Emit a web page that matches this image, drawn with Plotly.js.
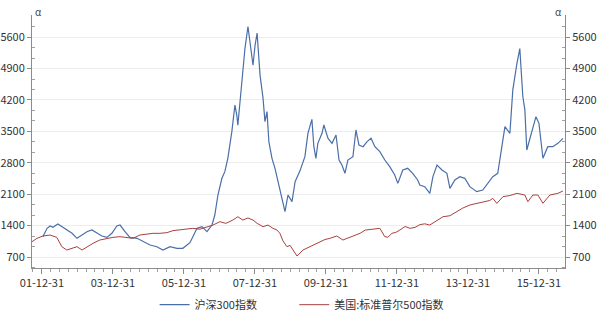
<!DOCTYPE html>
<html>
<head>
<meta charset="utf-8">
<script src="https://cdn.plot.ly/plotly-3.0.1.min.js"></script>
<style>html,body{margin:0;padding:0;background:#fff;}#chart{width:598px;height:313px;}</style>
</head>
<body>
<div id="chart"></div>
<script>
const csiName = '沪深300指数';
const spxName = '美国:标准普尔500指数';

const csiDates = ['2002-01-10','2002-02-22','2002-03-25','2002-04-23','2002-06-13','2002-07-24','2002-09-13','2002-11-06','2002-12-27',
'2003-02-17','2003-04-08','2003-05-30','2003-07-20','2003-09-09','2003-10-31','2003-12-21',
'2004-02-10','2004-03-14','2004-05-04','2004-06-24','2004-09-05','2004-11-06',
'2005-01-16','2005-03-28','2005-05-29','2005-08-10','2005-10-20','2005-12-20',
'2006-03-03','2006-05-15','2006-07-05','2006-08-25','2006-10-16','2006-11-14','2006-12-16',
'2007-01-26','2007-02-25','2007-03-28','2007-05-08','2007-06-09','2007-06-28','2007-07-09','2007-08-19','2007-09-20','2007-10-21','2007-11-11','2007-12-12',
'2008-01-02','2008-01-23','2008-02-22','2008-03-24','2008-04-13','2008-05-04','2008-05-23','2008-06-24','2008-07-25','2008-08-25','2008-10-05','2008-11-05','2008-12-06',
'2009-01-16','2009-02-17','2009-04-08','2009-05-29','2009-06-29','2009-08-09','2009-08-29','2009-09-19','2009-10-09','2009-11-21','2009-12-10',
'2010-01-22','2010-03-04','2010-04-14','2010-05-15','2010-06-14','2010-07-15','2010-08-14','2010-10-05','2010-11-05','2010-12-06',
'2011-01-17','2011-02-28','2011-04-09','2011-05-19','2011-07-09','2011-08-29','2011-10-19','2011-12-09',
'2012-01-10','2012-03-01','2012-04-21','2012-06-11','2012-08-01','2012-08-23','2012-10-13','2012-12-04',
'2013-01-05','2013-02-16','2013-04-08','2013-05-29','2013-06-29','2013-08-19','2013-10-09','2013-11-29',
'2014-01-20','2014-04-01','2014-06-02','2014-07-23','2014-09-13','2014-11-03','2014-12-17',
'2015-01-16','2015-03-08','2015-04-07','2015-05-19','2015-06-18','2015-07-19','2015-08-09','2015-08-29','2015-10-20','2015-12-01',
'2016-01-01','2016-02-11','2016-04-01','2016-05-23','2016-07-14','2016-09-04'];
const csiValues = [1153,1339,1391,1361,1435,1376,1317,1228,1116,
1190,1264,1302,1228,1168,1138,1228,
1391,1413,1264,1138,1116,1041,
967,930,856,930,894,894,
1020,1339,1376,1264,1413,1636,2082,
2454,2603,2900,3494,4085,3862,3638,4603,5346,5837,5494,4974,
5420,5690,4760,4240,3718,3941,3271,2900,2677,2380,1934,1711,2082,
1934,2380,2620,2937,3457,3768,3159,2900,3234,3457,3643,
3345,3234,3420,2862,2751,2566,2862,2937,3531,3197,
3159,3271,3345,3159,3048,2862,2714,2528,
2342,2640,2677,2566,2417,2305,2268,2119,
2491,2751,2640,2566,2231,2417,2491,2454,
2268,2156,2193,2342,2491,2566,3234,
3605,3457,4426,5012,5346,4277,3980,3085,3531,3828,
3679,2900,3159,3159,3234,3345];

const spxDates = ['2001-09-20','2001-11-10','2002-01-10','2002-03-25','2002-06-02','2002-07-24','2002-09-13','2002-11-06','2002-12-27',
'2003-02-17','2003-04-08','2003-06-10','2003-08-19','2003-10-31','2004-01-01','2004-03-14','2004-05-23','2004-07-24','2004-10-04','2004-12-17',
'2005-02-17','2005-04-28','2005-07-09','2005-09-09','2005-11-21','2006-01-31','2006-04-01','2006-06-13','2006-08-25','2006-10-27',
'2007-01-05','2007-03-08','2007-05-19','2007-07-09','2007-08-29','2007-10-21','2007-12-12',
'2008-01-23','2008-03-24','2008-05-14','2008-07-04','2008-08-14','2008-09-13','2008-10-15','2008-11-25','2008-12-27',
'2009-01-27','2009-03-09','2009-05-09','2009-07-20','2009-09-09','2009-10-31','2009-12-21',
'2010-02-10','2010-04-22','2010-06-24','2010-09-04','2010-10-27','2010-12-17',
'2011-02-08','2011-03-30','2011-05-19','2011-07-09','2011-08-29','2011-09-30','2011-11-10','2011-12-21',
'2012-01-31','2012-03-25','2012-05-14','2012-07-05','2012-08-23','2012-10-13','2012-12-04',
'2013-02-16','2013-04-19','2013-06-29','2013-09-09','2013-11-08',
'2014-01-20','2014-04-01','2014-06-02','2014-08-13','2014-09-13','2014-10-25','2014-12-27',
'2015-03-08','2015-05-19','2015-08-09','2015-09-09','2015-10-31','2015-12-21',
'2016-02-11','2016-04-22','2016-07-14','2016-09-04'];
const spxValues = [1041,1116,1168,1190,1138,930,856,894,930,
856,930,1005,1079,1116,1138,1153,1138,1116,1190,1213,
1228,1228,1243,1287,1302,1317,1339,1320,1376,1413,
1487,1450,1524,1598,1524,1570,1524,
1450,1376,1413,1339,1302,1230,1060,930,960,
856,722,856,930,1000,1041,1090,
1116,1168,1079,1138,1180,1228,
1300,1317,1330,1339,1153,1140,1228,1250,
1302,1380,1339,1360,1420,1440,1413,
1520,1598,1620,1710,1790,
1859,1890,1933,1960,2008,1896,2045,
2070,2119,2082,1933,2082,2082,
1896,2082,2119,2171];

const yTicks = [700,1400,2100,2800,3500,4200,4900,5600];
const xTickVals = ['2001-12-31','2003-12-31','2005-12-31','2007-12-31','2009-12-31','2011-12-31','2013-12-31','2015-12-31'];
const xTickText = ['01-12-31','03-12-31','05-12-31','07-12-31','09-12-31','11-12-31','13-12-31','15-12-31'];

const yRange = [455, 6094];
const fontFam = '"Noto Sans CJK SC", "Noto Sans", sans-serif';

const minorY = [];
for (let i = 0; i < yTicks.length; i++) {
  minorY.push(yTicks[i] - 700/3, yTicks[i] - 1400/3);
}
minorY.push(5600 + 700/3);

const axisY = {
  range: yRange, tickvals: yTicks, ticktext: yTicks.map(String),
  showline: true, linecolor: '#8c8c8c', linewidth: 1,
  ticks: 'outside', ticklen: 4, tickcolor: '#8c8c8c',
  minor: {tickvals: minorY, ticks: 'inside', ticklen: 3, tickcolor: '#a0a0a0'},
  zeroline: false, tickfont: {size: 11, color: '#333', family: fontFam}, fixedrange: true
};

const data = [
  {x: csiDates, y: csiValues, type: 'scatter', mode: 'lines', name: csiName,
   line: {color: '#4a6fa8', width: 1.2}, yaxis: 'y', legend: 'legend'},
  {x: spxDates, y: spxValues, type: 'scatter', mode: 'lines', name: spxName,
   line: {color: '#a8413f', width: 1}, yaxis: 'y2', legend: 'legend2'}
];

const legendBase = {orientation: 'h', xanchor: 'left', y: -0.145, yanchor: 'middle',
  font: {size: 11, color: '#333', family: fontFam}, itemwidth: 30, bgcolor: 'rgba(0,0,0,0)'};

const layout = {
  width: 598, height: 313,
  margin: {l: 32, r: 33, t: 15, b: 45, autoexpand: false},
  paper_bgcolor: '#fff', plot_bgcolor: '#fff',
  font: {family: fontFam, size: 11, color: '#333'},
  showlegend: true,
  legend: Object.assign({}, legendBase, {x: 0.23}),
  legend2: Object.assign({}, legendBase, {x: 0.492}),
  xaxis: {
    type: 'date', range: ['2001-09-20', '2016-09-25'],
    tickvals: xTickVals, ticktext: xTickText,
    showline: true, linecolor: '#8c8c8c', linewidth: 1,
    ticks: 'outside', ticklen: 5, tickcolor: '#8c8c8c',
    minor: {dtick: 'M3', tick0: '2001-12-31', ticks: 'outside', ticklen: 3, tickcolor: '#a0a0a0'},
    showgrid: false, zeroline: false, fixedrange: true,
    tickfont: {size: 11, color: '#333', family: fontFam}
  },
  yaxis: Object.assign({}, axisY, {side: 'left', showgrid: true, gridcolor: '#ececec', gridwidth: 1}),
  yaxis2: Object.assign({}, axisY, {side: 'right', overlaying: 'y', showgrid: false}),
  annotations: [
    {xref: 'paper', yref: 'paper', x: 0, y: 1, xanchor: 'left', yanchor: 'bottom', xshift: 1, yshift: -6,
     text: 'α', showarrow: false, font: {size: 10, color: '#444', family: fontFam}},
    {xref: 'paper', yref: 'paper', x: 1, y: 1, xanchor: 'right', yanchor: 'bottom', xshift: -1, yshift: -6,
     text: 'α', showarrow: false, font: {size: 10, color: '#444', family: fontFam}}
  ]
};

Plotly.newPlot('chart', data, layout, {displayModeBar: false, staticPlot: true});
</script>
</body>
</html>
